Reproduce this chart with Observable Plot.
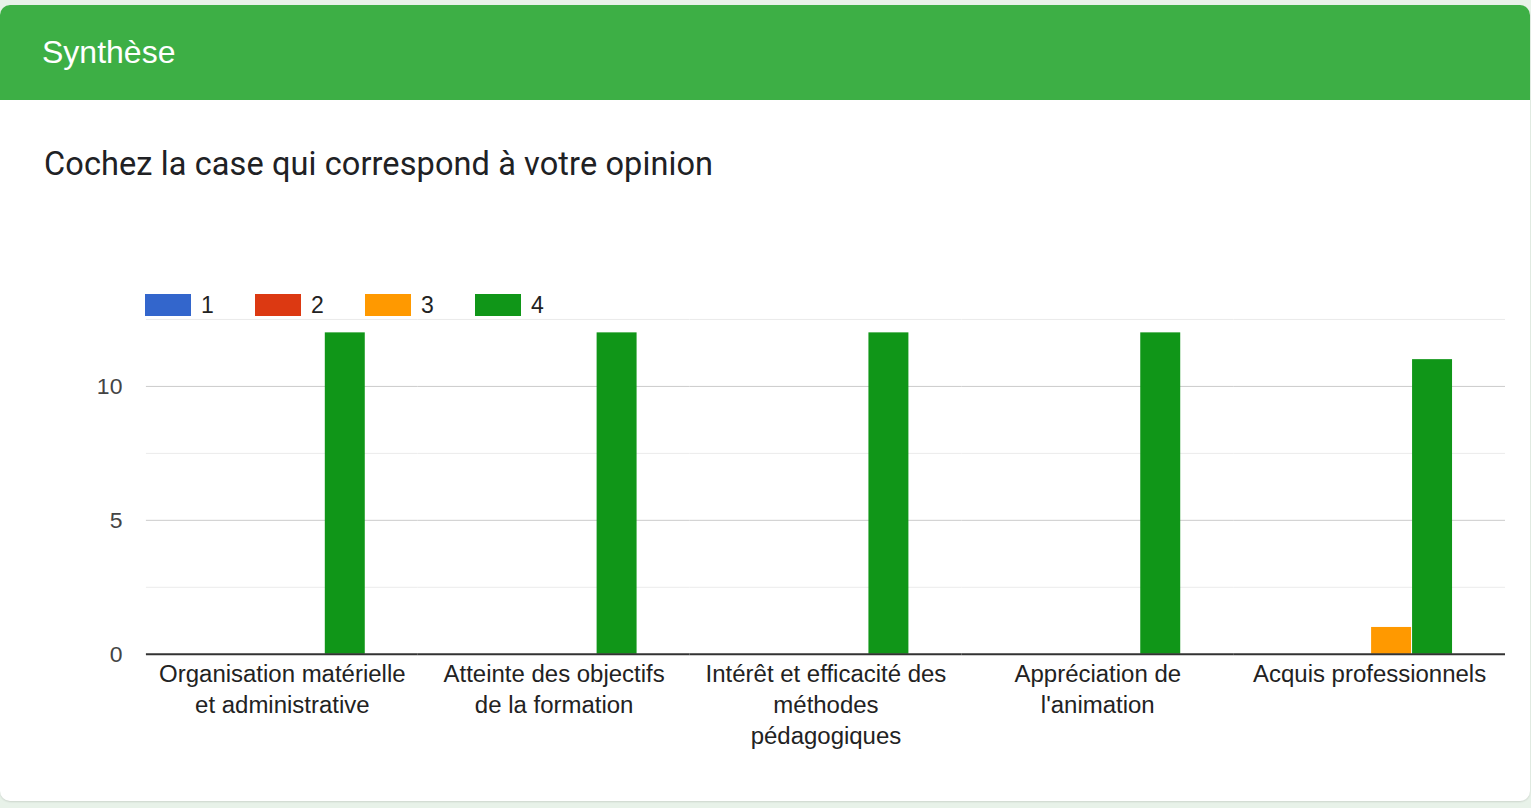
<!DOCTYPE html>
<html>
<head>
<meta charset="utf-8">
<script src="https://cdn.jsdelivr.net/npm/d3@7"></script>
<script src="https://cdn.jsdelivr.net/npm/@observablehq/plot@0.6"></script>
<style>
  html, body { margin: 0; padding: 0; }
  body { width: 1531px; height: 808px; background: #e8f2e9; position: relative; overflow: hidden;
         font-family: "Liberation Sans", Arial, sans-serif; }
  #card { position: absolute; left: 0; top: 5px; width: 1530px; height: 796px; background: #fff;
          border-radius: 10px; overflow: hidden; box-shadow: 0 1px 2px rgba(0,0,0,0.12); }
  #header { position: absolute; left: 0; top: 0; width: 100%; height: 95px; background: #3daf45; }
  #header span { position: absolute; left: 42px; top: 29px; font-size: 32px; color: #fff; }
  #title { position: absolute; left: 44px; top: 140px; font-family: Roboto, "Liberation Sans", sans-serif;
           font-size: 32.5px; color: #202124; letter-spacing: 0.1px; }
  #legend { position: absolute; left: 145px; top: 289px; height: 22px; display: flex; }
  .item { display: flex; align-items: center; width: 110px; }
  .sw { width: 46px; height: 22px; margin-right: 10px; }
  .lab { font-size: 23px; color: #222; }
  #chart { position: absolute; left: 0; top: 265px; }
</style>
</head>
<body>
<div id="card">
  <div id="header"><span>Synthèse</span></div>
  <div id="title">Cochez la case qui correspond à votre opinion</div>
  <div id="legend"></div>
  <div id="chart"></div>
</div>
<script>
const categories = [
  "Organisation matérielle et administrative",
  "Atteinte des objectifs de la formation",
  "Intérêt et efficacité des méthodes pédagogiques",
  "Appréciation de l'animation",
  "Acquis professionnels"
];
const categoryLabels = [
  "Organisation matérielle\net administrative",
  "Atteinte des objectifs\nde la formation",
  "Intérêt et efficacité des\nméthodes\npédagogiques",
  "Appréciation de\nl'animation",
  "Acquis professionnels"
];
const series = ["1", "2", "3", "4"];
const values1 = [0, 0, 0, 0, 0];
const values2 = [0, 0, 0, 0, 0];
const values3 = [0, 0, 0, 0, 1];
const values4 = [12, 12, 12, 12, 11];
const colors = ["#3366cc", "#dc3912", "#ff9900", "#109618"];
const yTicks = [0, 5, 10];
const yMinorGrid = [2.5, 7.5, 12.5];
const yMajorGrid = [5, 10];

const allValues = [values1, values2, values3, values4];
const rows = [];
categories.forEach((c, i) => {
  series.forEach((s, j) => {
    rows.push({cat: c, series: s, value: allValues[j][i]});
  });
});

// legend
const legend = document.getElementById("legend");
series.forEach((s, j) => {
  const it = document.createElement("div");
  it.className = "item";
  it.innerHTML = `<div class="sw" style="background:${colors[j]}"></div><span class="lab">${s}</span>`;
  legend.appendChild(it);
});

const chart = Plot.plot({
  width: 1531,
  height: 490,
  marginLeft: 145,
  marginRight: 24,
  marginTop: 49,
  marginBottom: 106,
  style: {fontFamily: "'Liberation Sans', Arial, sans-serif", fontSize: "23px", color: "#444", background: "transparent"},
  fx: {domain: categories, padding: 0, axis: null},
  x: {domain: series, paddingInner: 0, paddingOuter: 1.27, axis: null},
  y: {domain: [0, 12.5], axis: null},
  color: {domain: series, range: colors},
  marks: [
    Plot.ruleY(yMinorGrid, {stroke: "#ebebeb", strokeWidth: 1}),
    Plot.ruleY(yMajorGrid, {stroke: "#cccccc", strokeWidth: 1}),
    Plot.barY(rows.filter(d => d.value > 0), {fx: "cat", x: "series", y: "value", fill: "series", dx: 1.5, insetLeft: 0.5, insetRight: 0.5}),
    Plot.ruleY([0], {stroke: "#333", strokeWidth: 2}),
    Plot.axisY({ticks: yTicks, tickSize: 0, tickPadding: 24, fontSize: 23, color: "#444", label: null}),
    Plot.text(categories, {fx: d => d, text: (d, i) => categoryLabels[i], frameAnchor: "bottom", dy: 6,
      lineAnchor: "top", lineHeight: 1.29, fontSize: 24, fill: "#222"})
  ]
});
document.getElementById("chart").appendChild(chart);
</script>
</body>
</html>
